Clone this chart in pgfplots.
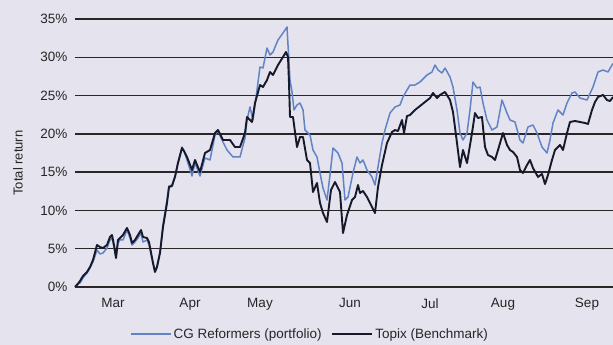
\documentclass[border=0pt]{standalone}
\usepackage{pgfplots}
\pgfplotsset{compat=1.18}
\usepackage{fontspec}
\setmainfont{Liberation Sans}
\definecolor{bg}{HTML}{E4E3EE}
\definecolor{cgblue}{HTML}{6284C6}
\definecolor{topix}{HTML}{16192A}
\definecolor{gridc}{HTML}{2A2628}
\begin{document}
\begin{tikzpicture}
\fill[bg] (-75pt,-58pt) rectangle (538pt,287pt);
\begin{axis}[
  at={(0pt,0pt)}, anchor=south west,
  scale only axis, width=538pt, height=268pt,
  xmin=75, xmax=613, ymin=0, ymax=35,
  axis line style={draw=none},
  major tick length=0pt,
  ytick={0,5,...,35},
  yticklabel={\pgfmathprintnumber{\tick}\%},
  xtick={113,190,260,350,430,503,587},
  xticklabels={Mar,Apr,May,Jun,Jul,Aug,Sep},
  /pgf/number format/assume math mode=true,
  ticklabel style={font=\fontsize{13.5}{15}\selectfont, text=black!85},
  yticklabel style={xshift=-4pt},
  xticklabel style={yshift=-8pt},
  ymajorgrids,
  grid style={gridc, line width=1.3pt},
  clip=false,
  legend style={at={(axis description cs:0.437,-0.175)}, anchor=center,
    draw=none, fill=none, legend columns=2,
    font=\fontsize{13.5}{15}\selectfont, text=black!85,
    /tikz/every even column/.append style={column sep=8pt}},
  legend image code/.code={\draw[#1] (0pt,0pt) -- (40pt,0pt);},
]
\addplot[cgblue, line width=1.5pt, line join=round] coordinates {
(75,0) (77,0.39) (80,0.52) (83,1.18) (87,1.83) (90,2.48) (93,3.26) (97,4.83) (100,4.31) (103,4.44)
(107,5.09) (110,6.14) (112,6.40) (114,5.22) (116,3.79) (118,5.75) (120,6.14) (123,6.14) (127,7.44) (130,6.40)
(132,5.49) (135,5.88) (138,6.40) (141,7.05) (143,5.88) (147,6.14) (149,5.49) (153,3.13) (155,2.09) (157,2.74)
(160,4.57) (163,8.10) (167,11.36) (169,13.19) (172,13.32) (175,14.50) (178,16.32) (182,18.28) (184,17.76) (187,16.59)
(192,14.50) (195,16.19) (200,14.50) (205,16.85) (210,16.59) (212,17.89) (215,19.85) (218,20.37) (223,18.94) (227,17.89)
(233,16.98) (240,16.98) (245,19.46) (247,21.81) (250,23.51) (253,21.81) (257,25.73) (260,28.73) (263,28.60) (267,31.21)
(270,30.30) (273,30.69) (278,32.26) (283,33.17) (287,33.96) (288,31.60) (290,27.03) (292,25.47) (294,23.12) (297,23.77)
(300,24.03) (303,23.12) (305,20.50) (310,19.85) (313,17.89) (317,16.98) (320,14.89) (323,12.93) (327,11.36) (330,14.63)
(333,18.15) (338,17.50) (342,16.19) (345,11.36) (348,11.75) (353,14.89) (357,16.98) (360,16.19) (363,16.59) (367,15.28)
(372,14.37) (375,13.32) (378,15.67) (382,18.81) (385,20.50) (390,22.72) (395,23.51) (400,23.77) (403,24.81) (407,25.73)
(410,26.38) (415,26.38) (420,26.77) (427,27.69) (432,28.08) (435,28.99) (438,28.34) (442,27.95) (445,28.60) (450,27.43)
(453,26.12) (457,23.12) (460,20.11) (463,19.20) (467,20.11) (470,23.12) (473,26.77) (477,25.99) (480,26.12) (483,24.03)
(487,21.81) (492,20.50) (497,20.90) (502,24.42) (507,22.72) (510,21.81) (515,21.55) (520,19.20) (523,18.81) (528,20.90)
(533,21.16) (537,20.11) (542,18.28) (547,17.50) (550,19.20) (553,21.42) (558,23.12) (563,22.46) (567,24.03) (572,25.34)
(575,25.47) (580,24.68) (587,24.42) (593,26.12) (598,28.08) (603,28.34) (608,28.08) (612,28.99) (613,29.2)
};
\addlegendentry{CG Reformers (portfolio)}
\addplot[topix, line width=1.9pt, line join=round] coordinates {
(75,0) (77,0.26) (80,0.78) (83,1.44) (87,1.96) (90,2.61) (93,3.53) (97,5.49) (100,5.22) (103,5.09)
(107,5.49) (110,6.53) (112,6.79) (114,5.49) (116,3.79) (118,6.14) (120,6.40) (123,6.79) (127,7.71) (130,6.79)
(132,5.75) (135,6.14) (138,6.79) (141,7.44) (143,6.53) (147,6.40) (149,5.88) (153,3.13) (155,1.96) (157,2.61)
(160,4.44) (163,7.84) (167,10.97) (169,13.06) (172,13.19) (175,14.37) (178,16.19) (182,18.15) (184,17.76) (187,16.98)
(192,15.28) (195,16.59) (200,15.02) (205,17.50) (210,17.89) (215,20.11) (218,20.50) (223,19.20) (230,19.20) (235,18.28)
(240,18.28) (245,20.11) (247,22.20) (252,21.55) (255,24.03) (260,26.38) (263,26.12) (267,27.03) (270,28.08) (273,27.69)
(278,28.99) (283,30.04) (286,30.69) (288,30.04) (289,26.64) (290,22.20) (293,22.20) (297,18.28) (300,19.59) (303,19.59)
(307,16.59) (310,16.19) (313,12.41) (317,13.58) (320,10.97) (323,9.66) (327,8.49) (331,12.67) (335,13.71) (340,12.41)
(343,7.05) (347,9.40) (352,11.36) (355,11.75) (358,13.32) (360,12.28) (363,12.54) (367,11.75) (372,10.45) (375,9.66)
(378,13.06) (382,15.93) (387,18.81) (392,20.24) (395,20.50) (398,20.37) (402,21.81) (404,20.11) (407,22.33) (410,22.46)
(415,23.12) (420,23.64) (425,24.16) (430,24.68) (433,25.34) (437,24.68) (440,25.08) (445,25.47) (450,24.42) (453,22.85)
(457,18.81) (460,15.67) (463,17.89) (467,16.19) (472,20.11) (475,22.72) (478,22.07) (482,22.20) (485,18.28) (488,17.24)
(492,16.98) (495,16.59) (498,17.89) (503,20.11) (507,18.55) (510,17.89) (513,17.63) (517,16.98) (520,15.28) (523,14.89)
(527,15.93) (530,16.59) (533,15.54) (538,14.37) (542,14.76) (545,13.45) (548,14.63) (552,16.59) (555,17.89) (560,18.55)
(563,17.89) (567,20.11) (570,21.55) (575,21.68) (580,21.55) (585,21.42) (588,21.29) (592,23.12) (595,24.16) (598,24.81)
(603,25.08) (607,24.42) (610,24.29) (613,24.81)
};
\addlegendentry{Topix (Benchmark)}
\end{axis}
\node[rotate=90, font=\fontsize{13}{15}\selectfont, text=black!85] at (-57pt,124pt) {Total return};
\pgfresetboundingbox
\path[use as bounding box] (-75pt,-58pt) rectangle (538pt,287pt);
\end{tikzpicture}
\end{document}
